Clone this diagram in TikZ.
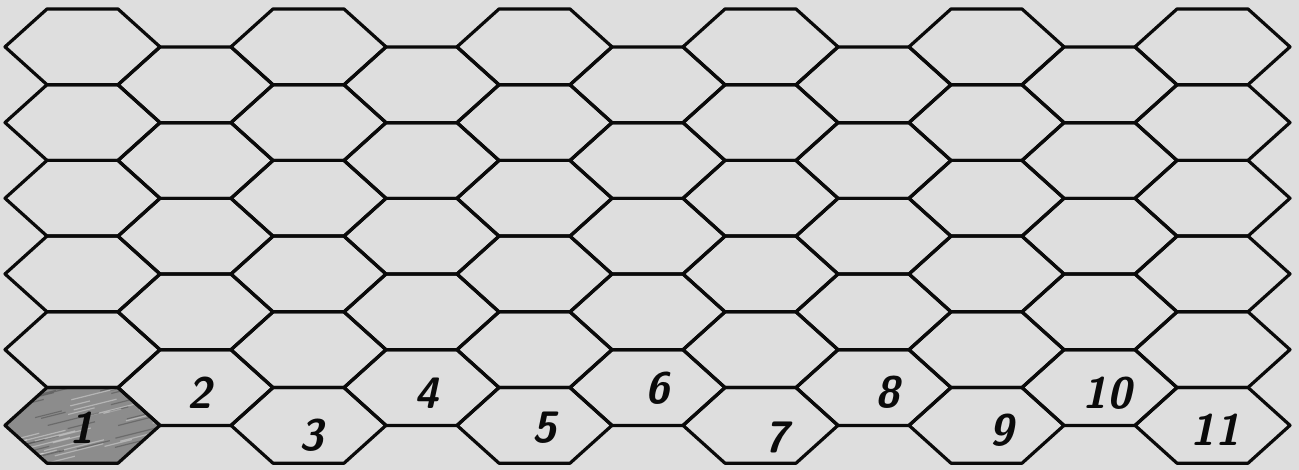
\documentclass[tikz,border=0pt]{standalone}
\usepackage{fontspec}
\definecolor{paper}{RGB}{222,222,222}
\definecolor{ink}{RGB}{10,10,10}
\definecolor{pencil}{RGB}{140,140,140}
\tikzset{
  hexline/.style={line width=3.2pt, line join=round, line cap=round, draw=ink},
  lab/.style={font=\fontsize{44}{44}\selectfont\sffamily\bfseries\itshape, text=ink, inner sep=0pt},
}
\newcommand{\hexpath}[2]{% #1 = left x, #2 = centre y
  ({#1},{#2}) -- ({#1+42},{#2-37.85}) -- ({#1+113},{#2-37.85}) -- ({#1+155},{#2})
  -- ({#1+113},{#2+37.85}) -- ({#1+42},{#2+37.85}) -- cycle}
\begin{document}
\begin{tikzpicture}[x=1pt,y=-1pt]
\fill[paper] (0,0) rectangle (1299,470);
\useasboundingbox (0,0) rectangle (1299,470);
% shaded hex 1 (pencil hatching)
\begin{scope}
  \clip \hexpath{5}{425.35};
  \fill[pencil] (0,380) rectangle (170,470);
  \pgfmathsetseed{7}
  \foreach \k in {1,...,70}{
    \pgfmathsetmacro\px{rnd*170}
    \pgfmathsetmacro\py{385+rnd*85}
    \pgfmathsetmacro\ln{15+rnd*35}
    \pgfmathsetmacro\sh{rnd}
    \ifdim\sh pt<0.5pt
      \draw[black!70, line width=1.2pt, opacity=0.5] (\px,\py) -- ++(\ln,-0.25*\ln);
    \else
      \draw[white, line width=1.2pt, opacity=0.35] (\px,\py) -- ++(\ln,-0.25*\ln);
    \fi
  }
\end{scope}
% odd columns: 6 hexes
\foreach \i in {0,2,...,10}{
  \foreach \j in {0,...,5}{
    \pgfmathsetmacro\L{5+113*\i}
    \pgfmathsetmacro\Y{9+75.7*\j+37.85}
    \draw[hexline] \hexpath{\L}{\Y};
  }
}
% even columns: 5 hexes
\foreach \i in {1,3,...,9}{
  \foreach \j in {0,...,4}{
    \pgfmathsetmacro\L{5+113*\i}
    \pgfmathsetmacro\Y{47+75.7*\j+37.85}
    \draw[hexline] \hexpath{\L}{\Y};
  }
}
\node[lab] (n1) at (82,428) {1};
\node[lab] (n2) at (200,393) {2};
\node[lab] (n3) at (312,435) {3};
\node[lab] (n4) at (427,393) {4};
\node[lab] (n5) at (545,428) {5};
\node[lab] (n6) at (658,388) {6};
\node[lab] (n7) at (777,437) {7};
\node[lab] (n8) at (888,392) {8};
\node[lab] (n9) at (1002,430) {9};
\node[lab] (n10) at (1107,393) {10};
\node[lab] (n11) at (1215,430) {11};
\end{tikzpicture}
\end{document}
